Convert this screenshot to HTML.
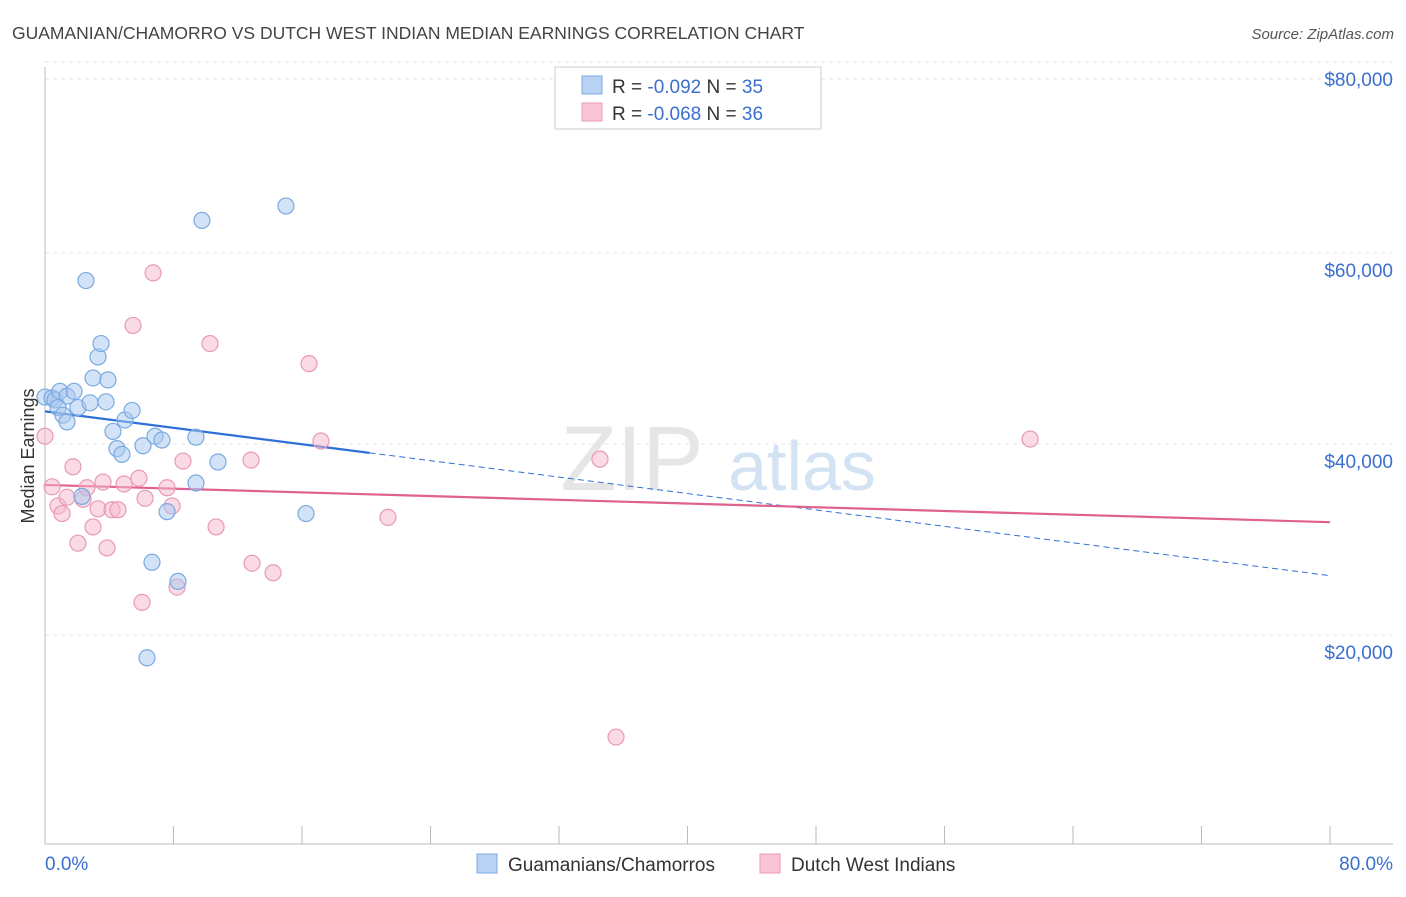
<!DOCTYPE html>
<html><head><meta charset="utf-8"><style>
body{margin:0;background:#fff;font-family:"Liberation Sans",sans-serif;}
svg text{font-family:"Liberation Sans",sans-serif;}
</style></head><body>
<svg id="chart" width="1406" height="892" viewBox="0 0 1406 892" xmlns="http://www.w3.org/2000/svg">
<text x="12" y="39" font-size="17.5" fill="#444">GUAMANIAN/CHAMORRO VS DUTCH WEST INDIAN MEDIAN EARNINGS CORRELATION CHART</text>
<text x="1394" y="39" font-size="15" fill="#555" text-anchor="end" font-style="italic">Source: ZipAtlas.com</text>
<g id="watermark">
<text x="632" y="490" font-size="92" fill="#e6e6e6" font-family="Liberation Serif" text-anchor="middle">ZIP</text>
<text x="802" y="490" font-size="70" fill="#d4e3f4" text-anchor="middle">atlas</text>
</g>
<g id="grid"></g>
<g id="axes"></g>
<g id="trends"></g>
<g id="points"></g>
<g>
<rect x="555" y="67" width="266" height="62" fill="#fff" stroke="#ccc"/>
<rect x="582" y="76" width="20" height="18" fill="#b8d2f4" stroke="#7aaae0"/>
<rect x="582" y="103" width="20" height="18" fill="#f9c4d4" stroke="#e89ab4"/>
<text x="612" y="93" font-size="19" fill="#333">R = <tspan fill="#3a6fd0">-0.092</tspan>   N = <tspan fill="#3a6fd0">35</tspan></text>
<text x="612" y="120" font-size="19" fill="#333">R = <tspan fill="#3a6fd0">-0.068</tspan>   N = <tspan fill="#3a6fd0">36</tspan></text>
</g>
<text transform="translate(34,456) rotate(-90)" font-size="18" fill="#333" text-anchor="middle">Median Earnings</text>
<g>
<rect x="477" y="854" width="20" height="19" fill="#b8d2f4" stroke="#7aaae0"/>
<text x="508" y="871" font-size="19" fill="#333">Guamanians/Chamorros</text>
<rect x="760" y="854" width="20" height="19" fill="#f9c4d4" stroke="#e89ab4"/>
<text x="791" y="871" font-size="19" fill="#333">Dutch West Indians</text>
</g>
</svg>
<script>
const yTicks=[20,40,60,80];
const yTickLabels=["$20,000","$40,000","$60,000","$80,000"];
const xTicks=[0,8,16,24,32,40,48,56,64,72,80];
const blueX=[0,0.44,0.62,0.93,1.37,1.81,0.81,1.12,1.37,2.05,2.8,2.99,3.3,3.49,2.55,3.8,3.92,4.23,4.48,4.79,4.98,5.42,6.1,6.85,7.28,2.3,6.66,7.6,8.28,6.35,9.4,9.4,10.77,9.77,15.0,16.25];
const blueY=[46.8,46.7,46.5,47.4,46.9,47.4,45.7,44.9,44.2,45.7,46.2,48.8,51.0,52.4,59.0,46.3,48.6,43.2,41.4,40.8,44.4,45.4,41.7,42.7,42.3,36.4,29.5,34.8,27.5,19.5,42.6,37.8,40.0,65.3,66.8,34.6];
const pinkX=[0,0.44,0.81,1.06,1.37,1.74,2.05,2.37,2.61,2.99,3.3,3.61,3.86,4.17,4.54,4.92,5.48,5.85,6.04,6.23,6.73,7.6,7.91,8.22,8.59,10.27,10.65,12.83,12.89,14.2,16.44,17.18,21.35,34.55,35.55,61.33];
const pinkY=[42.7,37.4,35.4,34.6,36.3,39.5,31.5,36.1,37.3,33.2,35.1,37.9,31.0,35.0,35.0,37.7,54.3,38.3,25.3,36.2,59.8,37.3,35.4,26.9,40.1,52.4,33.2,40.2,29.4,28.4,50.3,42.2,34.2,40.3,11.2,42.4];
const blueTrend=[45.3,28.1]; const blueSolidEnd=20.2;
const pinkTrend=[37.6,33.7];
const NS="http://www.w3.org/2000/svg";
const xs=v=>45+v/80*1285, ys=v=>844-v/20*191;
function mk(tag,at,parent){const e=document.createElementNS(NS,tag);for(const k in at)e.setAttribute(k,at[k]);document.getElementById(parent).appendChild(e);return e;}
yTicks.forEach((t,i)=>{
 const l=mk('line',{x1:45,x2:1393,y1:ys(t)-18,y2:ys(t)-18,stroke:'#e4e4e4','stroke-dasharray':'4,4'},'grid');
 
 
 const tx=mk('text',{x:1393,y:ys(t)-18+24,'font-size':19,fill:'#3a6fd0','text-anchor':'end'},'axes');
 tx.textContent=yTickLabels[i];
 
 
});
mk('line',{x1:45,x2:1393,y1:79,y2:79,stroke:'#e4e4e4','stroke-dasharray':'4,4'},'grid');
mk('line',{x1:45,x2:45,y1:67,y2:844,stroke:'#bbb'},'axes');
mk('line',{x1:45,x2:1393,y1:844,y2:844,stroke:'#bbb'},'axes');
xTicks.forEach(t=>{const l=mk('line',{x1:xs(t),x2:xs(t),y1:826,y2:844,stroke:'#bbb'},'axes');
 
 });
let a=mk('text',{x:45,y:870,'font-size':19,fill:'#3a6fd0'},'axes');a.textContent='0.0%';


let b=mk('text',{x:1393,y:870,'font-size':19,fill:'#3a6fd0','text-anchor':'end'},'axes');b.textContent='80.0%';


function pts(X,Y,fill,stroke,name){X.forEach((x,i)=>{const c=mk('circle',{cx:xs(x),cy:ys(Y[i]),r:8,fill:fill,'fill-opacity':0.5,stroke:stroke,'stroke-width':1.2},'points');
 
 });}
pts(pinkX,pinkY,'#f5b8cc','#e89ab4','pink-point');
pts(blueX,blueY,'#a8c8f0','#7aaae0','blue-point');
const by=x=>blueTrend[0]+(blueTrend[1]-blueTrend[0])*x/80;
let t1=mk('line',{x1:xs(0),y1:ys(by(0)),x2:xs(blueSolidEnd),y2:ys(by(blueSolidEnd)),stroke:'#2f6fd6','stroke-width':2.2},'trends');


let t2=mk('line',{x1:xs(blueSolidEnd),y1:ys(by(blueSolidEnd)),x2:xs(80),y2:ys(by(80)),stroke:'#2f6fd6','stroke-width':1,'stroke-dasharray':'6,4'},'trends');


let t3=mk('line',{x1:xs(0),y1:ys(pinkTrend[0]),x2:xs(80),y2:ys(pinkTrend[1]),stroke:'#e06090','stroke-width':2.2},'trends');


</script>
</body></html>
